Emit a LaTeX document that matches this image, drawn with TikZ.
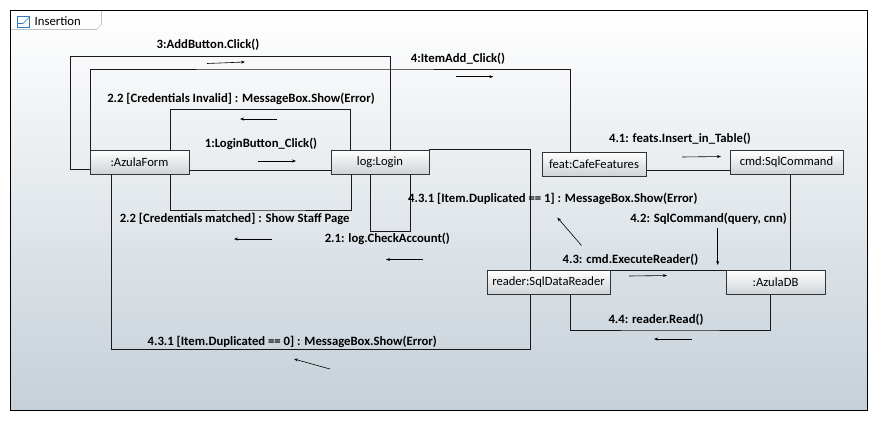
\documentclass[tikz,border=0pt]{standalone}
\usepackage{fontspec}
\setmainfont{Carlito}
\usetikzlibrary{arrows.meta,calc}
\definecolor{bgbot}{RGB}{197,208,216}
\definecolor{boxbot}{RGB}{205,211,215}
\definecolor{tabline}{RGB}{190,196,200}
\definecolor{iconblue}{RGB}{50,120,190}
\begin{document}
\begin{tikzpicture}[x=1pt,y=-1pt,
  obj/.style={draw=black!80, line width=0.8pt, top color=white, bottom color=boxbot,
    minimum width=#1, minimum height=24pt, inner sep=0pt,
    font=\fontsize{12.6}{14}\selectfont},
  lbl/.style={inner sep=0pt, font=\bfseries\fontsize{12.7}{14}\selectfont},
  conn/.style={line width=0.8pt, black!90},
  msg/.style={line width=0.6pt, -{Stealth[length=4pt,width=3pt]}}]
\useasboundingbox (0,0) rectangle (877,421);
% frame
\shade[top color=white, bottom color=bgbot] (10,10) rectangle (867,410);
\draw[tabline, line width=0.6pt] (10,29.5) -- (96.5,29.5) -- (101.5,24.5) -- (101.5,10);
\draw[black, line width=0.8pt] (10,10) rectangle (867,410);
\draw[iconblue, line width=0.7pt] (17.5,16.5) rectangle (29.5,27.5);
\draw[iconblue, line width=0.7pt] (17.5,23.5) -- (23,23.5) -- (29.5,17);
\node[anchor=west, inner sep=0pt, font=\fontsize{12.7}{14}\selectfont] (title) at (34.5,21.5) {Insertion};
% objects
\node[obj=99pt]  (af) at (139.5,162)  {:AzulaForm};
\node[obj=98pt]  (ll) at (380,162)    {log:Login};
\node[obj=104pt] (cf) at (594,164)    {feat:CafeFeatures};
\node[obj=113pt] (sc) at (786.5,162.5){cmd:SqlCommand};
\node[obj=123pt] (rd) at (548.5,282.5){reader:SqlDataReader};
\node[obj=99pt]  (db) at (775.5,282.5){:AzulaDB};
% connectors
\draw[conn] ([yshift=-7pt]af.west) -| (70,56) -| ([xshift=10pt]ll.north);
\draw[conn] ([xshift=1pt]af.north west) |- (300,69) -| ([xshift=-24pt]cf.north);
\draw[conn] ([xshift=30.5pt]af.north) |- (260,109.5) -| ([xshift=-30pt]ll.north);
\draw[conn] ([yshift=-8pt]af.east) -- ([yshift=-8pt]ll.west);
\draw[conn] ([xshift=31pt]af.south) |- (260,210) -| ([xshift=-29pt]ll.south);
\draw[conn] ([xshift=-9.5pt]ll.south) |- (390,231.5) -| ([xshift=30.5pt]ll.south);
\draw[conn] ([xshift=-28.5pt]af.south) |- (300,349.5) -| ([xshift=-18pt]rd.south);
\draw[conn] ([xshift=-18pt]rd.north) |- (ll.north east);
\draw[conn] ([xshift=22pt]rd.south) |- (670,330) -| ([xshift=-5pt]db.south);
\draw[conn] ([yshift=-6pt]cf.east) -- ([yshift=-6pt]cf.east -| sc.west);
\draw[conn] ([xshift=4pt]sc.south) -- ([xshift=4pt]sc.south |- db.north);
\draw[conn] (rd.north east) -- (db.north west);
% labels
\node[lbl] (m3)   at (208,45)    {3:AddButton.Click()};
\node[lbl] (m4)   at (458,59)    {4:ItemAdd\_Click()};
\node[lbl] (m22a) at (241,99)    {2.2 [Credentials Invalid] : MessageBox.Show(Error)};
\node[lbl] (m1)   at (261,144)   {1:LoginButton\_Click()};
\node[lbl] (m22b) at (234.7,219.3){2.2 [Credentials matched] : Show Staff Page};
\node[lbl] (m21)  at (387.3,238.7){2.1: log.CheckAccount()};
\node[lbl] (m431a) at (552.8,199) {4.3.1 [Item.Duplicated == 1] : MessageBox.Show(Error)};
\node[lbl] (m43)  at (630.5,260) {4.3: cmd.ExecuteReader()};
\node[lbl] (m41)  at (680,139)   {4.1: feats.Insert\_in\_Table()};
\node[lbl] (m42)  at (708.5,219) {4.2: SqlCommand(query, cnn)};
\node[lbl] (m44)  at (656,319.3) {4.4: reader.Read()};
\node[lbl] (m431b) at (292.3,341.7){4.3.1 [Item.Duplicated == 0] : MessageBox.Show(Error)};
% message arrows
\draw[msg] (207,63.5) -- (245,62);
\draw[msg] (456,76.7) -- (493.3,76.7);
\draw[msg] (277,119) -- (240,119);
\draw[msg] (258,161) -- (296,161);
\draw[msg] (272,239) -- (234,239);
\draw[msg] (423,259.5) -- (386,259.5);
\draw[msg] (581.5,245.5) -- (557.3,217.5);
\draw[msg] (330,369) -- (294,359);
\draw[msg] (682,157) -- (721,156.5);
\draw[msg] (717.7,228) -- (717.7,265);
\draw[msg] (629,276) -- (667,275.5);
\draw[msg] (692,339) -- (654,339);
\end{tikzpicture}
\end{document}
